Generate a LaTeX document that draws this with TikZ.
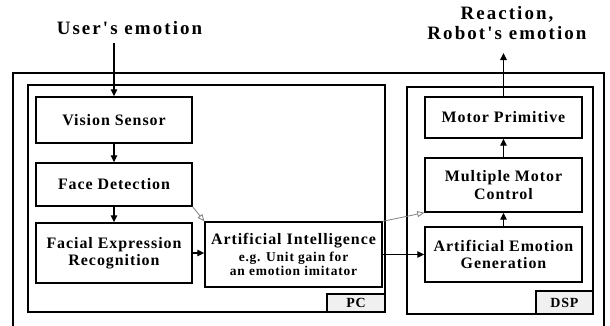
\documentclass[tikz,border=0pt]{standalone}
\usepackage{fontspec}
\setmainfont{Liberation Serif}
\newfontfamily\bxfont[LetterSpace=6]{Liberation Serif}
\newfontfamily\ttlfont[LetterSpace=11]{Liberation Serif}
\usetikzlibrary{arrows.meta}
\newcommand\aismall{\fontsize{13.5}{14}\selectfont}
\begin{document}
\begin{tikzpicture}[x=1bp,y=-1bp,
  blk/.style={draw, line width=1.4bp, fill=white, align=center, inner sep=0pt,
    font=\bxfont\bfseries\fontsize{16}{17.5}\selectfont},
  frame/.style={draw, line width=1.3bp},
  tag/.style={draw, line width=1.6bp, fill=gray!12, inner sep=0pt,
    font=\bxfont\bfseries\fontsize{14}{15}\selectfont},
  ttl/.style={align=center, font=\ttlfont\bfseries\fontsize{19}{20}\selectfont},
  arr/.style={line width=1.3bp, -{Triangle[length=7bp,width=6.5bp]}},
  garr/.style={gray, line width=0.8bp, -{Triangle[open,length=7bp,width=6bp]}}
]
\useasboundingbox (0,0) rectangle (610,325);
\clip (0,0) rectangle (610,325);
% frames
\draw[frame] (13,340) -- (13,73) -- (604,73) -- (604,340);
\node[frame, minimum width=357bp, minimum height=227bp, inner sep=0pt] (pc) at (206.5,198.5) {};
\node[frame, minimum width=186bp, minimum height=227bp, inner sep=0pt] (dsp) at (500,200.5) {};
\node[tag, minimum width=58bp, minimum height=18bp] (pctag) at (356,303) {PC};
\node[tag, minimum width=57bp, minimum height=23bp] (dsptag) at (564.5,302.5) {DSP};
% titles
\node[ttl] (user) at (129.5,28) {User's emotion};
\node[ttl] (react) at (507,23) {Reaction,\\Robot's emotion};
% blocks
\node[blk, minimum width=156bp, minimum height=46bp] (vs) at (114,120) {Vision Sensor};
\node[blk, minimum width=156bp, minimum height=43bp] (fd) at (114,184.5) {Face Detection};
\node[blk, minimum width=156bp, minimum height=60bp] (fer) at (114,253) {Facial Expression\\Recognition};
\node[blk, minimum width=177bp, minimum height=65bp] (ai) at (293.5,254.5)
  {Artificial Intelligence\\[-1bp]{\aismall e.g. Unit gain for}\\[-3bp]{\aismall an emotion imitator}};
\node[blk, minimum width=157bp, minimum height=41bp] (mp) at (503.5,117.5) {Motor Primitive};
\node[blk, minimum width=157bp, minimum height=54bp] (mmc) at (503.5,185) {Multiple Motor\\Control};
\node[blk, minimum width=157bp, minimum height=55bp] (aeg) at (503.5,254.5) {Artificial Emotion\\Generation};
% connectors
\coordinate (uin) at (114,43);
\coordinate (rout) at (503.5,53);
\draw[arr] (uin) -- (vs.north);
\draw[arr] (vs.south) -- (fd.north);
\draw[arr] (fd.south) -- (fer.north);
\draw[arr] (fer.east) -- (fer.east -| ai.west);
\draw[arr] (ai.east) -- (aeg.west);
\draw[arr] (aeg.north) -- (mmc.south);
\draw[arr] (mmc.north) -- (mp.south);
\draw[arr] (mp.north) -- (rout);
\draw[garr] (fd.south east) -- (ai.north west);
\draw[garr] (ai.north east) -- (mmc.south west);
\end{tikzpicture}
\end{document}
